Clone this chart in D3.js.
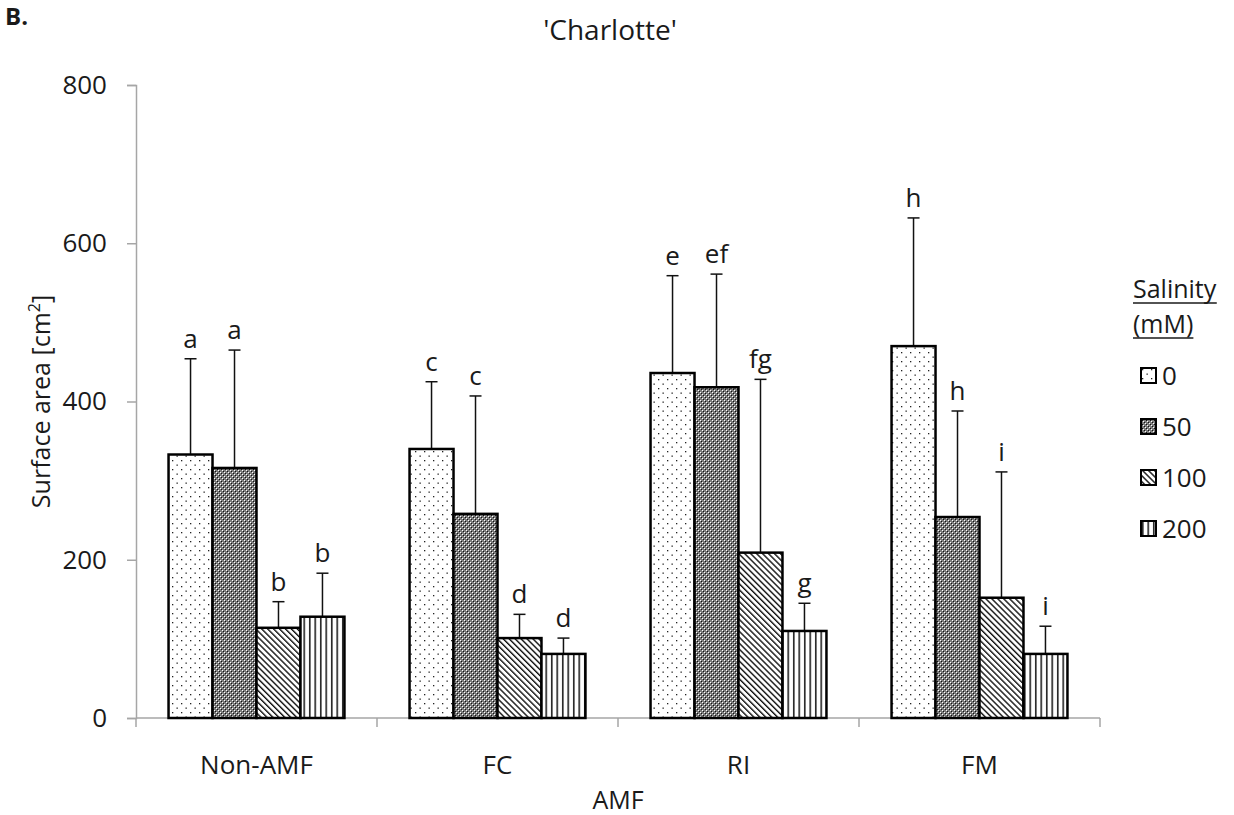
<!DOCTYPE html>
<html><head><meta charset="utf-8">
<script src="https://cdn.jsdelivr.net/npm/d3@7"></script>
<style>body{margin:0;background:#fff}svg{display:block}text{font-family:"Open Sans",sans-serif;fill:#1a1a1a}</style>
</head><body>
<svg id="chart" width="1234" height="815"></svg>
<script>
const categories = ["Non-AMF", "FC", "RI", "FM"];
const salinity = ["0", "50", "100", "200"];
const means = {
  "0":   [333, 340, 436, 470],
  "50":  [316, 258, 418, 254],
  "100": [114, 101, 209, 152],
  "200": [128, 81, 110, 81]
};
const errTop = {
  "0":   [454, 425, 559, 632],
  "50":  [465, 407, 561, 388],
  "100": [147, 131, 428, 311],
  "200": [183, 101, 145, 116]
};
const letters = {
  "0":   ["a", "c", "e", "h"],
  "50":  ["a", "c", "ef", "h"],
  "100": ["b", "d", "fg", "i"],
  "200": ["b", "d", "g", "i"]
};
const yTicks = [0, 200, 400, 600, 800];

const svg = d3.select("#chart");
const m = {left: 136, right: 134, top: 85, bottom: 97};
const W = 1234, H = 815;

// patterns
const defs = svg.append("defs");
const pDot = defs.append("pattern").attr("id", "p0").attr("patternUnits", "userSpaceOnUse").attr("width", 9).attr("height", 9);
pDot.append("rect").attr("width", 9).attr("height", 9).attr("fill", "#fff");
pDot.append("rect").attr("x", 1).attr("y", 1).attr("width", 1.3).attr("height", 1.3).attr("fill", "#222");
pDot.append("rect").attr("x", 5.5).attr("y", 5.5).attr("width", 1.3).attr("height", 1.3).attr("fill", "#222");

const pGray = defs.append("pattern").attr("id", "p1").attr("patternUnits", "userSpaceOnUse").attr("width", 4).attr("height", 4);
pGray.append("rect").attr("width", 4).attr("height", 4).attr("fill", "#7c7c7c");
pGray.append("rect").attr("x", 0).attr("y", 0).attr("width", 1).attr("height", 1).attr("fill", "#fff");
pGray.append("rect").attr("x", 2).attr("y", 2).attr("width", 1).attr("height", 1).attr("fill", "#fff");
pGray.append("rect").attr("x", 1).attr("y", 1).attr("width", 1).attr("height", 1).attr("fill", "#111");
pGray.append("rect").attr("x", 3).attr("y", 3).attr("width", 1).attr("height", 1).attr("fill", "#111");

const pDiag = defs.append("pattern").attr("id", "p2").attr("patternUnits", "userSpaceOnUse").attr("width", 4.2).attr("height", 4.2).attr("patternTransform", "rotate(-45)");
pDiag.append("rect").attr("width", 4.2).attr("height", 4.2).attr("fill", "#fff");
pDiag.append("rect").attr("x", 0).attr("width", 1.4).attr("height", 4.2).attr("fill", "#111");

const pVert = defs.append("pattern").attr("id", "p3").attr("patternUnits", "userSpaceOnUse").attr("width", 5.5).attr("height", 5.5);
pVert.append("rect").attr("width", 5.5).attr("height", 5.5).attr("fill", "#fff");
pVert.append("rect").attr("x", 1).attr("width", 1.5).attr("height", 5.5).attr("fill", "#111");

const fills = d3.scaleOrdinal().domain(salinity).range(["url(#p0)", "url(#p1)", "url(#p2)", "url(#p3)"]);

const x0 = d3.scaleBand().domain(categories).range([m.left, W - m.right]).paddingInner(0).paddingOuter(0);
const x1 = d3.scaleBand().domain(salinity).range([0, x0.bandwidth()]).paddingInner(0).paddingOuter(0.74);
const y = d3.scaleLinear().domain([0, 800]).range([H - m.bottom, m.top]);

// y axis
const yAxis = svg.append("g").attr("transform", `translate(${m.left},0)`)
  .call(d3.axisLeft(y).tickValues(yTicks).tickSize(9).tickPadding(20).tickFormat(d3.format("d")));
yAxis.select(".domain").attr("stroke", "#a6a6a6").attr("stroke-width", 1.5);
yAxis.selectAll(".tick line").attr("stroke", "#a6a6a6").attr("stroke-width", 1.5);
yAxis.selectAll(".tick text").attr("font-size", 26).attr("fill", "#1a1a1a").attr("font-family", "Open Sans");

// x axis: ticks at category boundaries
const bounds = categories.map(c => x0(c)).concat([x0(categories[categories.length - 1]) + x0.bandwidth()]);
const xg = svg.append("g");
xg.append("line").attr("x1", m.left).attr("x2", W - m.right).attr("y1", y(0)).attr("y2", y(0)).attr("stroke", "#a6a6a6").attr("stroke-width", 1.5);
xg.selectAll("line.tk").data(bounds).join("line").attr("class", "tk")
  .attr("x1", d => d).attr("x2", d => d).attr("y1", y(0)).attr("y2", y(0) + 9)
  .attr("stroke", "#a6a6a6").attr("stroke-width", 1.5);
xg.selectAll("text").data(categories).join("text")
  .attr("x", d => x0(d) + x0.bandwidth() / 2).attr("y", y(0) + 56)
  .attr("text-anchor", "middle").attr("font-size", 26).text(d => d);

// bars
const rows = [];
categories.forEach((c, i) => salinity.forEach(s => rows.push({c, s, v: means[s][i], e: errTop[s][i], l: letters[s][i]})));

const g = svg.append("g");
const cx = d => x0(d.c) + x1(d.s) + x1.bandwidth() / 2;
g.selectAll("line.eb").data(rows).join("line").attr("class", "eb")
  .attr("x1", cx).attr("x2", cx)
  .attr("y1", d => y(d.v)).attr("y2", d => y(d.e)).attr("stroke", "#111").attr("stroke-width", 1.5);
g.selectAll("line.cap").data(rows).join("line").attr("class", "cap")
  .attr("x1", d => cx(d) - 6).attr("x2", d => cx(d) + 6)
  .attr("y1", d => y(d.e)).attr("y2", d => y(d.e)).attr("stroke", "#111").attr("stroke-width", 1.5);
g.selectAll("rect.bar").data(rows).join("rect").attr("class", "bar")
  .attr("x", d => x0(d.c) + x1(d.s)).attr("width", x1.bandwidth())
  .attr("y", d => y(d.v)).attr("height", d => y(0) - y(d.v))
  .attr("fill", d => fills(d.s)).attr("stroke", "#000").attr("stroke-width", 2.5);
g.selectAll("text.lt").data(rows).join("text").attr("class", "lt")
  .attr("x", cx).attr("y", d => y(d.e) - 11)
  .attr("text-anchor", "middle").attr("font-size", 26).text(d => d.l);

// titles
svg.append("text").attr("x", 610).attr("y", 40).attr("text-anchor", "middle").attr("font-size", 28).text("'Charlotte'");
svg.append("text").attr("x", 5).attr("y", 25).attr("font-size", 24).attr("font-weight", "bold").text("B.");
svg.append("text").attr("x", (m.left + W - m.right) / 2).attr("y", 809).attr("text-anchor", "middle").attr("font-size", 25).text("AMF");
const yt = svg.append("text").attr("transform", `translate(50,${(m.top + H - m.bottom) / 2}) rotate(-90)`).attr("text-anchor", "middle").attr("font-size", 25);
yt.append("tspan").text("Surface area [cm");
yt.append("tspan").attr("font-size", 16).attr("dy", -10).text("2");
yt.append("tspan").attr("dy", 10).text("]");

// legend
const lg = svg.append("g").attr("transform", "translate(1133,0)");
const lt1 = lg.append("text").attr("x", 0).attr("y", 298).attr("font-size", 25).text("Salinity");
const lt2 = lg.append("text").attr("x", 0).attr("y", 333).attr("font-size", 25).text("(mM)");
[lt1, lt2].forEach(t => {
  const b = t.node().getBBox();
  lg.append("line").attr("x1", b.x).attr("x2", b.x + b.width).attr("y1", +t.attr("y") + 5).attr("y2", +t.attr("y") + 5).attr("stroke", "#1a1a1a").attr("stroke-width", 1.5);
});
const li = lg.selectAll("g.it").data(salinity).join("g").attr("class", "it")
  .attr("transform", (d, i) => `translate(8,${368 + i * 51})`);
li.append("rect").attr("width", 15).attr("height", 15).attr("fill", d => fills(d)).attr("stroke", "#000").attr("stroke-width", 2);
li.append("text").attr("x", 21).attr("y", 17).attr("font-size", 26).text(d => d);
</script>
</body></html>
